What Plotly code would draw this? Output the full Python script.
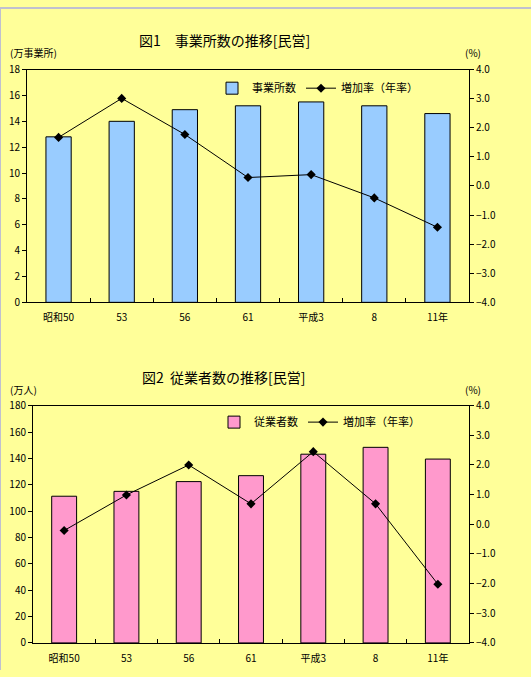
import plotly.graph_objects as go

categories = ["昭和50", "53", "56", "61", "平成3", "8", "11年"]
establishments = [12.8, 14.0, 14.9, 15.2, 15.5, 15.2, 14.6]
est_growth = [1.67, 3.01, 1.77, 0.29, 0.39, -0.41, -1.42]
employees = [111.3, 115.0, 122.4, 126.9, 143.2, 148.4, 139.5]
emp_growth = [-0.21, 0.99, 2.0, 0.69, 2.45, 0.69, -2.02]

W, H = 531, 677
BG = "#FFFF99"
FONT = "Noto Sans CJK JP"

def px(y):
    return 1 - y / H

fig = go.Figure()

fig.add_trace(go.Bar(x=categories, y=establishments, name="事業所数",
                     marker=dict(color="#99CCFF", line=dict(color="black", width=1)),
                     xaxis="x", yaxis="y", legend="legend", width=0.4))
fig.add_trace(go.Scatter(x=categories, y=est_growth, name="増加率（年率）",
                         mode="lines+markers",
                         line=dict(color="black", width=1),
                         marker=dict(symbol="diamond", size=7, color="black"),
                         xaxis="x", yaxis="y2", legend="legend"))
fig.add_trace(go.Bar(x=categories, y=employees, name="従業者数",
                     marker=dict(color="#FF99CC", line=dict(color="black", width=1)),
                     xaxis="x2", yaxis="y3", legend="legend2", width=0.4))
fig.add_trace(go.Scatter(x=categories, y=emp_growth, name="増加率（年率）",
                         mode="lines+markers",
                         line=dict(color="black", width=1),
                         marker=dict(symbol="diamond", size=7, color="black"),
                         xaxis="x2", yaxis="y4", legend="legend2"))

tickfont = dict(family=FONT, size=10, color="black")
xcommon = dict(type="category", showline=True, linecolor="black", linewidth=1,
               mirror=True, ticks="inside", tickson="boundaries", ticklen=4,
               tickcolor="black", tickfont=tickfont, showgrid=False, zeroline=False,
               ticklabelstandoff=6)
ycommon = dict(showline=True, linecolor="black", linewidth=1, ticks="outside",
               ticklen=4, tickcolor="black", tickfont=tickfont, showgrid=False,
               zeroline=False)

def ann(text, x, y, size, xanchor="center"):
    return dict(text=text, x=x / W, y=px(y), xref="paper", yref="paper",
                xanchor=xanchor, yanchor="middle", showarrow=False,
                font=dict(family=FONT, size=size, color="black"))

fig.update_layout(
    width=W, height=H, autosize=False,
    margin=dict(l=0, r=0, t=0, b=0),
    paper_bgcolor=BG, plot_bgcolor=BG,
    font=dict(family=FONT, color="black"),
    showlegend=True,
    xaxis=dict(domain=[27 / W, 469 / W], anchor="y", **xcommon),
    yaxis=dict(domain=[px(301), px(63)], range=[0, 18], dtick=2, anchor="x",
               **ycommon),
    yaxis2=dict(range=[-4, 4], dtick=1, tickformat=".1f", overlaying="y",
                side="right", anchor="x", **ycommon),
    xaxis2=dict(domain=[33 / W, 469 / W], anchor="y3", **xcommon),
    yaxis3=dict(domain=[px(649.3), px(406.7)], range=[0, 180], dtick=20,
                anchor="x2", **ycommon),
    yaxis4=dict(range=[-4, 4], dtick=1, tickformat=".1f", overlaying="y3",
                side="right", anchor="x2", **ycommon),
    legend=dict(x=212 / W, y=px(82), xanchor="left", yanchor="middle",
                orientation="h", bgcolor="rgba(0,0,0,0)",
                font=dict(family=FONT, size=11), itemwidth=30,
                traceorder="normal"),
    legend2=dict(x=214 / W, y=px(423.5), xanchor="left", yanchor="middle",
                 orientation="h", bgcolor="rgba(0,0,0,0)",
                 font=dict(family=FONT, size=11), itemwidth=30,
                 traceorder="normal"),
    annotations=[
        ann("図1　事業所数の推移[民営]", 224, 33, 14),
        ann("(万事業所)", 8, 45, 10, "left"),
        ann("(%)", 473, 45, 10),
        ann("図2  従業者数の推移[民営]", 224, 377, 14),
        ann("(万人)", 8, 390, 10, "left"),
        ann("(%)", 473, 390, 10),
    ],
    shapes=[
        dict(type="line", xref="paper", yref="paper", x0=0, x1=1, y0=1, y1=1,
             line=dict(color="#C0C0D0", width=2)),
        dict(type="line", xref="paper", yref="paper", x0=0, x1=0, y0=0, y1=1,
             line=dict(color="#C0C0D0", width=2)),
    ],
)

fig.write_html("out.html",
               config={"displayModeBar": False, "responsive": False},
               post_script="document.body.style.margin='0';document.body.style.overflow='hidden';")
